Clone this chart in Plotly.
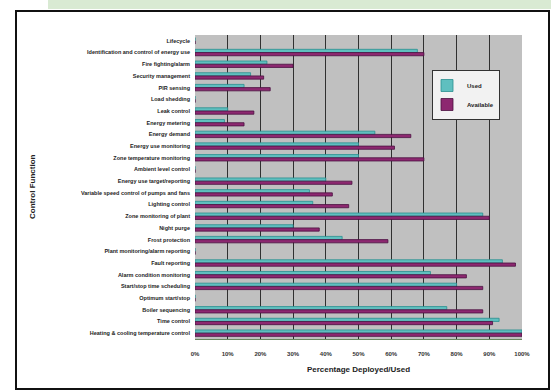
import plotly.graph_objects as go

categories = [
    "Lifecycle",
    "Identification and control of energy use",
    "Fire fighting/alarm",
    "Security management",
    "PIR sensing",
    "Load shedding",
    "Leak control",
    "Energy metering",
    "Energy demand",
    "Energy use monitoring",
    "Zone temperature monitoring",
    "Ambient level control",
    "Energy use target/reporting",
    "Variable speed control of pumps and fans",
    "Lighting control",
    "Zone monitoring of plant",
    "Night purge",
    "Frost protection",
    "Plant monitoring/alarm reporting",
    "Fault reporting",
    "Alarm condition monitoring",
    "Start/stop time scheduling",
    "Optimum start/stop",
    "Boiler sequencing",
    "Time control",
    "Heating & cooling temperature control",
]

used = [0, 68, 22, 17, 15, 0, 10, 9, 55, 50, 50, 0, 40, 35, 36, 88, 30, 45,
        0, 94, 72, 80, 0, 77, 93, 100]
available = [0, 70, 30, 21, 23, 0, 18, 15, 66, 61, 70, 0, 48, 42, 47, 90, 38, 59,
             0, 98, 83, 88, 0, 88, 91, 100]

tick_values = [0, 10, 20, 30, 40, 50, 60, 70, 80, 90, 100]
tick_labels = ["0%", "10%", "20%", "30%", "40%", "50%", "60%", "70%", "80%", "90%", "100%"]

L, R, T, B = 195, 522, 35, 339
PW, PH = R - L, B - T


def px_x(x):
    return (x - L) / PW


def px_y(y):
    return (B - y) / PH


fig = go.Figure()
fig.add_trace(go.Bar(
    y=categories, x=used, name="Used", orientation="h",
    marker=dict(color="#5fbfbf", line=dict(color="#2a8f8f", width=0.8)),
))
fig.add_trace(go.Bar(
    y=categories, x=available, name="Available", orientation="h",
    marker=dict(color="#8d2870", line=dict(color="#4a1040", width=0.8)),
))

fig.update_layout(
    width=551, height=391,
    margin=dict(l=L, r=551 - R, t=T, b=391 - B),
    paper_bgcolor="white",
    plot_bgcolor="#c0c0c0",
    barmode="group",
    bargap=0.45,
    bargroupgap=0,
    font=dict(family="Liberation Sans, Arial, sans-serif", color="#222"),
    showlegend=True,
    legend=dict(
        x=px_x(432), y=px_y(70), xanchor="left", yanchor="top",
        bgcolor="#f2f2f2", bordercolor="#333", borderwidth=1,
        font=dict(size=6, color="#222", family="Liberation Sans, Arial, sans-serif", weight="bold"),
        tracegroupgap=0, itemwidth=30, indentation=-6,
    ),
    xaxis=dict(
        range=[0, 100], tickvals=tick_values, ticktext=tick_labels,
        showgrid=True, gridcolor="#303030", gridwidth=1,
        tickfont=dict(size=6, color="#333", weight="bold"),
        ticklabelstandoff=9,
        title=dict(text="<b>Percentage Deployed/Used</b>", font=dict(size=8, color="#222"), standoff=10),
        showline=True, linecolor="#6a8a60", linewidth=1, mirror=False,
        zeroline=False, ticks="",
    ),
    yaxis=dict(
        autorange="reversed",
        tickfont=dict(size=5.5, color="#222", weight="bold"),
        ticklabelstandoff=4,
        showgrid=False, ticks="", showline=False,
    ),
)

fig.add_annotation(
    text="<b>Control Function</b>", textangle=-90, showarrow=False,
    xref="paper", yref="paper", x=px_x(32), y=0.5,
    xanchor="center", yanchor="middle", font=dict(size=8, color="#222"),
)

# decorative frame elements
fig.add_shape(type="rect", xref="paper", yref="paper",
              x0=px_x(48), x1=px_x(551), y0=px_y(0), y1=px_y(9),
              fillcolor="#d9ead3", line=dict(width=0), layer="below")
fig.add_shape(type="rect", xref="paper", yref="paper",
              x0=px_x(16), x1=px_x(549), y0=px_y(389), y1=px_y(11),
              fillcolor="rgba(0,0,0,0)", line=dict(color="#111", width=2), layer="below")

fig.write_html("out.html", config={"displayModeBar": False},
               post_script="document.body.style.margin='0';")
